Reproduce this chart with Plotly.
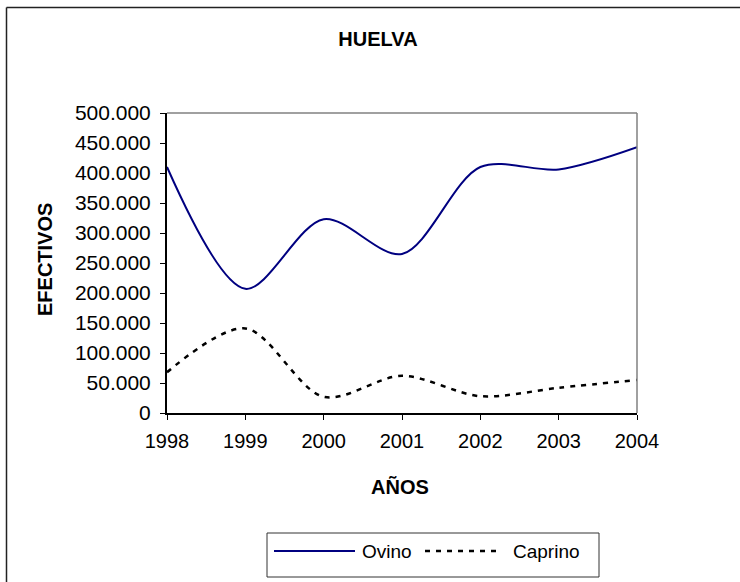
import plotly.graph_objects as go

years = [1998, 1999, 2000, 2001, 2002, 2003, 2004]
ovino = [410000, 207000, 323000, 265000, 410000, 406000, 443000]
caprino = [68000, 141000, 27000, 62000, 28000, 42000, 55000]
ytick_vals = [0, 50000, 100000, 150000, 200000, 250000, 300000, 350000, 400000, 450000, 500000]

FONT = "Liberation Sans, Arial, sans-serif"

fig = go.Figure()
fig.add_trace(go.Scatter(x=years, y=ovino, name="Ovino", mode="lines",
                         line=dict(color="#000080", width=2, shape="spline", smoothing=0.9),
                         showlegend=False))
fig.add_trace(go.Scatter(x=years, y=caprino, name="Caprino", mode="lines",
                         line=dict(color="#000000", width=2.5, shape="spline", smoothing=0.9,
                                   dash="5px,6px"),
                         showlegend=False))

L, R, T, B = 167, 637, 113, 413
W, H = 740, 582

def px(x):
    return (x - L) / (R - L)

def py(y):
    return (B - y) / (B - T)

shapes = [
    dict(type="line", xref="paper", yref="paper", x0=0, x1=1, y0=1, y1=1,
         line=dict(color="#808080", width=1.5)),
    dict(type="line", xref="paper", yref="paper", x0=1, x1=1, y0=0, y1=1,
         line=dict(color="#808080", width=1.5)),
    dict(type="line", xref="paper", yref="paper", x0=px(6.5), x1=px(745), y0=py(7.5), y1=py(7.5),
         line=dict(color="#222222", width=1.5)),
    dict(type="line", xref="paper", yref="paper", x0=px(6.5), x1=px(6.5), y0=py(7.5), y1=py(590),
         line=dict(color="#222222", width=1.5)),
    dict(type="rect", xref="paper", yref="paper", x0=px(267), x1=px(599), y0=py(533), y1=py(577),
         line=dict(color="#333333", width=1), fillcolor="rgba(0,0,0,0)"),
    dict(type="line", xref="paper", yref="paper", x0=px(274), x1=px(355), y0=py(551), y1=py(551),
         line=dict(color="#000080", width=2)),
    dict(type="line", xref="paper", yref="paper", x0=px(425), x1=px(502), y0=py(551), y1=py(551),
         line=dict(color="#000000", width=2.5, dash="5px,6px")),
]

annotations = [
    dict(text="<b>EFECTIVOS</b>", xref="paper", yref="paper", x=px(45), y=py(260),
         textangle=-90, showarrow=False, font=dict(family=FONT, size=20, color="black"),
         xanchor="center", yanchor="middle"),
    dict(text="<b>AÑOS</b>", xref="paper", yref="paper", x=px(400), y=py(487),
         showarrow=False, font=dict(family=FONT, size=20, color="black"),
         xanchor="center", yanchor="middle"),
    dict(text="Ovino", xref="paper", yref="paper", x=px(360), y=py(551),
         showarrow=False, font=dict(family=FONT, size=19, color="black"),
         xanchor="left", yanchor="middle"),
    dict(text="Caprino", xref="paper", yref="paper", x=px(511), y=py(551),
         showarrow=False, font=dict(family=FONT, size=19, color="black"),
         xanchor="left", yanchor="middle"),
]

fig.update_layout(
    width=W, height=H,
    margin=dict(l=L, r=W - R, t=T, b=H - B, pad=0),
    paper_bgcolor="white", plot_bgcolor="white",
    separators=",.",
    font=dict(family=FONT, color="black"),
    title=dict(text="<b>HUELVA</b>", x=378 / W, y=1 - 39 / H, xanchor="center", yanchor="middle",
               font=dict(family=FONT, size=20, color="black")),
    shapes=shapes,
    annotations=annotations,
    xaxis2=dict(overlaying="x", anchor="y", side="bottom", range=[1998, 2004], tickvals=years,
                showticklabels=False, showgrid=False, zeroline=False, showline=False,
                ticks="inside", ticklen=4, tickwidth=1, tickcolor="black"),
    yaxis2=dict(overlaying="y", anchor="x", side="left", range=[0, 500000], tickvals=ytick_vals,
                showticklabels=False, showgrid=False, zeroline=False, showline=False,
                ticks="inside", ticklen=4, tickwidth=1, tickcolor="black"),
)

fig.layout.xaxis.update(range=[1998, 2004], tickvals=years, ticktext=[str(y) for y in years],
                        showgrid=False, zeroline=False, showline=True, linecolor="black", linewidth=2,
                        ticks="outside", ticklen=5, tickwidth=1, tickcolor="black",
                        ticklabelstandoff=4,
                        tickfont=dict(family=FONT, size=20, color="black"))
fig.layout.yaxis.update(range=[0, 500000], tickvals=ytick_vals, tickformat=",d",
                        showgrid=False, zeroline=False, showline=True, linecolor="black", linewidth=2,
                        ticks="outside", ticklen=5, tickwidth=1, tickcolor="black",
                        ticklabelstandoff=5,
                        tickfont=dict(family=FONT, size=21, color="black"))

fig.write_html("out.html", config={"displayModeBar": False},
               post_script="document.body.style.margin='0';")
